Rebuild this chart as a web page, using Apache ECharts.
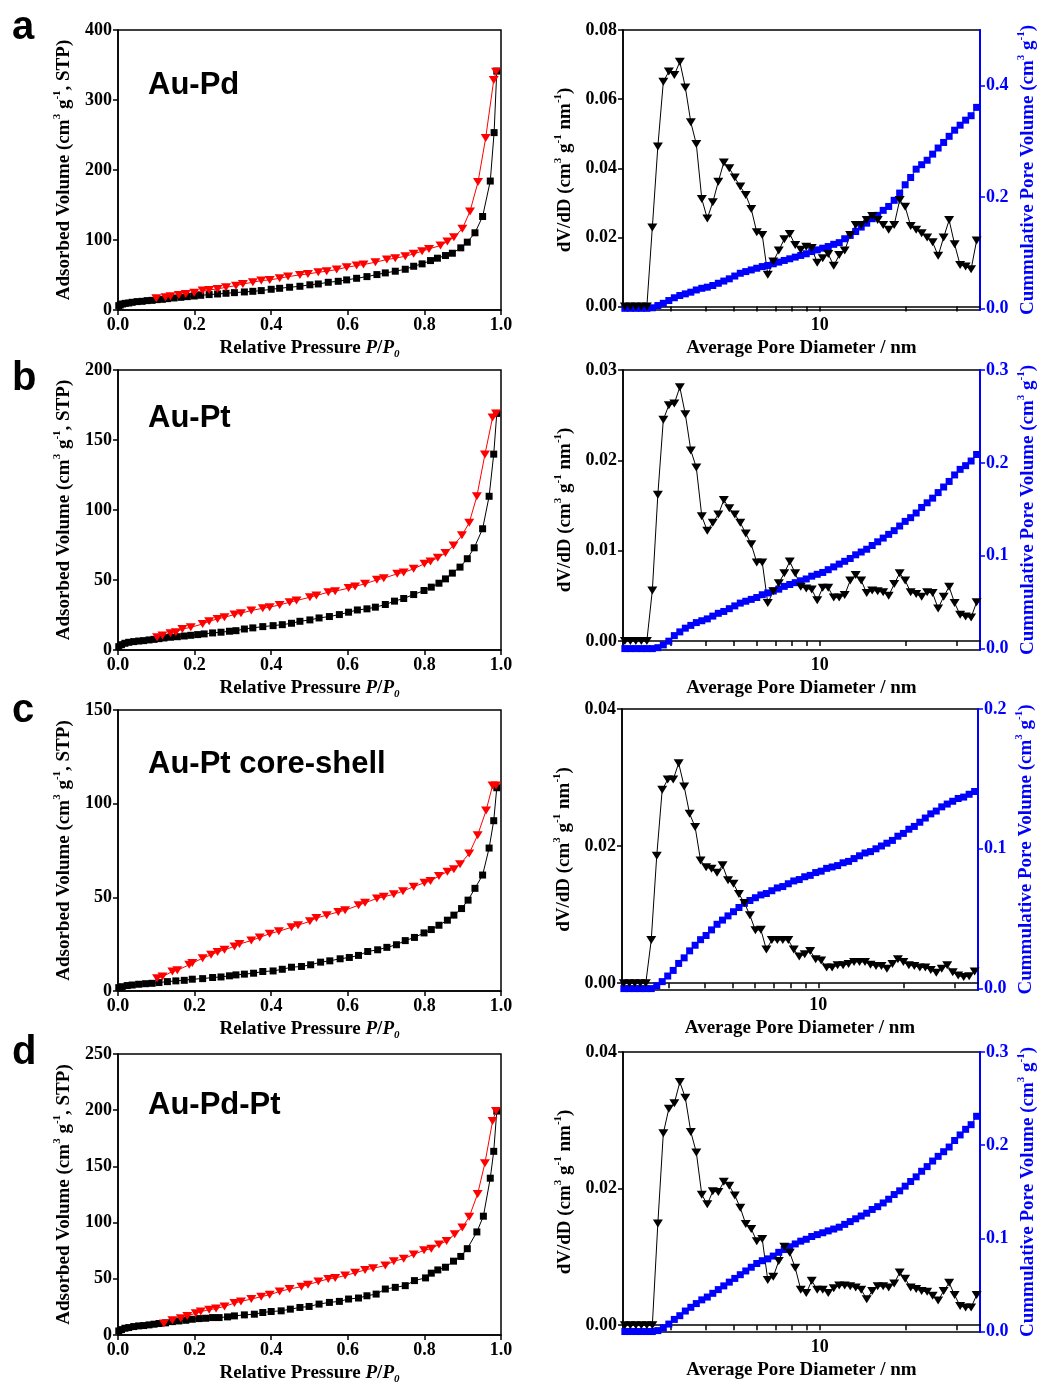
<!DOCTYPE html>
<html><head><meta charset="utf-8">
<script src="https://cdn.jsdelivr.net/npm/echarts@6/dist/echarts.min.js"></script>
<style>html,body{margin:0;padding:0;background:#fff}#c{width:1040px;height:1390px}</style>
</head><body><div id="c"></div><script>
// ---------- DATA ----------
const poreD = [2.081,2.175,2.273,2.376,2.484,2.596,2.714,2.836,2.965,3.099,
 3.239,3.386,3.539,3.699,3.866,4.041,4.224,4.415,4.615,4.824,
 5.042,5.270,5.508,5.757,6.018,6.290,6.575,6.872,7.183,7.508,
 7.848,8.203,8.574,8.962,9.367,9.791,10.234,10.697,11.181,11.687,
 12.215,12.768,13.345,13.949,14.580,15.240,15.929,16.650,17.403,18.190,
 19.013,19.873,20.772,21.712,22.694,23.721,24.794,25.916,27.088,28.313,
 29.594,30.933,32.333,33.795,35.324];

const dvdA = [0,0,0,0,0,0.0229,0.0463,0.065,0.068,0.067,
 0.0708,0.0634,0.0533,0.047,0.0311,0.0255,0.0302,0.0361,0.0417,0.040,
 0.0373,0.0347,0.0323,0.0282,0.0215,0.0207,0.0092,0.013,0.0162,0.0195,
 0.021,0.0178,0.0164,0.0173,0.0169,0.0127,0.014,0.0152,0.0118,0.0149,
 0.0162,0.0207,0.0236,0.0236,0.025,0.0262,0.025,0.0236,0.0222,0.0236,
 0.0308,0.0289,0.0233,0.0222,0.0212,0.020,0.0186,0.0147,0.020,0.025,
 0.018,0.012,0.0116,0.0108,0.0191];
const cumA = [0,0,0,0,0,0.001,0.005,0.009,0.014,0.019,
 0.023,0.026,0.029,0.033,0.036,0.038,0.041,0.045,0.049,0.053,
 0.058,0.063,0.066,0.069,0.072,0.075,0.077,0.080,0.083,0.086,
 0.089,0.092,0.095,0.098,0.102,0.105,0.108,0.111,0.115,0.118,
 0.125,0.131,0.138,0.146,0.153,0.161,0.167,0.176,0.183,0.194,
 0.207,0.222,0.235,0.250,0.258,0.266,0.277,0.288,0.298,0.309,
 0.320,0.329,0.338,0.346,0.361];

const dvdB = [0,0,0,0,0,0.0056,0.0162,0.0245,0.0261,0.0263,
 0.0281,0.0251,0.0211,0.0192,0.0138,0.0122,0.0131,0.0140,0.0156,0.0147,
 0.0140,0.0131,0.0119,0.0107,0.0087,0.0087,0.0042,0.0055,0.0064,0.0075,
 0.0088,0.0075,0.0060,0.0058,0.0057,0.0045,0.0059,0.0059,0.0048,0.0048,
 0.0051,0.0067,0.0073,0.0067,0.0053,0.0056,0.0055,0.0054,0.0050,0.0063,
 0.0075,0.0067,0.0054,0.0052,0.0049,0.0054,0.0053,0.0036,0.0049,0.0060,
 0.0042,0.0029,0.0027,0.0026,0.0043];
const cumB = [0,0,0,0,0,0,0.001,0.004,0.008,0.014,
 0.018,0.022,0.025,0.028,0.030,0.032,0.035,0.038,0.040,0.043,
 0.046,0.049,0.051,0.053,0.055,0.058,0.060,0.062,0.064,0.067,
 0.069,0.071,0.073,0.075,0.078,0.080,0.082,0.085,0.088,0.091,
 0.094,0.097,0.101,0.104,0.107,0.111,0.115,0.119,0.123,0.127,
 0.132,0.137,0.141,0.146,0.152,0.157,0.162,0.168,0.174,0.180,
 0.187,0.193,0.197,0.202,0.209];

const dvdC = [0,0,0,0,0,0.0063,0.0186,0.0282,0.0297,0.0297,
 0.0321,0.0287,0.0247,0.0228,0.0179,0.0169,0.0167,0.0161,0.0172,0.015,
 0.0145,0.013,0.0117,0.0099,0.0077,0.0078,0.0049,0.0063,0.0063,0.0063,
 0.0063,0.0049,0.0039,0.0042,0.0047,0.0035,0.0033,0.0023,0.0023,0.0026,
 0.0026,0.0028,0.0031,0.0031,0.0031,0.0027,0.0025,0.0025,0.0021,0.0028,
 0.0035,0.0031,0.0026,0.0025,0.0023,0.0023,0.0019,0.0015,0.0021,0.0026,
 0.0016,0.0011,0.0009,0.001,0.0017];
const cumC = [0,0,0,0,0,0,0.002,0.005,0.009,0.013,
 0.018,0.022,0.027,0.031,0.035,0.038,0.042,0.046,0.049,0.052,
 0.055,0.058,0.061,0.063,0.065,0.067,0.068,0.070,0.072,0.073,
 0.075,0.077,0.078,0.080,0.081,0.083,0.084,0.086,0.087,0.088,
 0.090,0.091,0.093,0.095,0.097,0.098,0.100,0.102,0.104,0.106,
 0.109,0.111,0.114,0.116,0.119,0.122,0.125,0.127,0.130,0.132,
 0.134,0.136,0.137,0.139,0.141];

const dvdD = [0,0,0,0,0,0,0.0149,0.0281,0.0317,0.0325,
 0.0356,0.0333,0.0283,0.0253,0.0191,0.0177,0.0196,0.0195,0.0210,0.0204,
 0.0190,0.0172,0.0148,0.0141,0.0123,0.0126,0.0066,0.0071,0.0094,0.0115,
 0.0106,0.0084,0.0052,0.0047,0.0065,0.0052,0.0052,0.0047,0.0054,0.0058,
 0.0058,0.0057,0.0055,0.0052,0.0038,0.0050,0.0057,0.0057,0.0055,0.0061,
 0.0077,0.0068,0.0055,0.0053,0.0050,0.0049,0.0043,0.0036,0.0050,0.0062,
 0.0044,0.0028,0.0026,0.0026,0.0044];
const cumD = [0,0,0,0,0,0,0.001,0.004,0.008,0.013,
 0.017,0.022,0.026,0.030,0.034,0.037,0.041,0.045,0.049,0.053,
 0.057,0.061,0.065,0.069,0.073,0.076,0.078,0.081,0.085,0.088,
 0.091,0.094,0.097,0.099,0.102,0.104,0.106,0.108,0.110,0.112,
 0.115,0.118,0.121,0.124,0.127,0.131,0.134,0.138,0.142,0.147,
 0.151,0.156,0.161,0.166,0.172,0.177,0.183,0.188,0.193,0.198,
 0.205,0.211,0.217,0.222,0.231];

const adsA = [[0.002,6.2],[0.006,7.2],[0.012,8.6],[0.019,9.5],[0.028,10.0],[0.037,11.0],[0.05,12.0],[0.063,12.4],[0.076,13.4],[0.089,13.8],[0.102,14.8],[0.116,15.3],[0.129,16.2],[0.146,17.2],[0.164,18.1],[0.181,19.1],[0.199,20.0],[0.216,21.0],[0.238,22.0],[0.26,22.9],[0.282,23.9],[0.304,24.8],[0.33,25.8],[0.352,26.7],[0.374,27.7],[0.40,29.6],[0.422,31.0],[0.448,32.5],[0.475,33.9],[0.501,36.0],[0.523,37.2],[0.549,39.6],[0.575,41.0],[0.597,43.0],[0.623,45.3],[0.65,47.7],[0.676,50.6],[0.698,53.0],[0.724,55.4],[0.75,58.2],[0.772,62.5],[0.794,65.9],[0.816,70.6],[0.834,74.0],[0.855,77.8],[0.873,81.1],[0.895,88.8],[0.912,96.9],[0.932,110.3],[0.952,133.6],[0.972,184.2],[0.982,253.4],[0.989,341.3]];
const desA = [[0.1,16.7],[0.124,18.1],[0.137,19.6],[0.159,21.5],[0.177,22.9],[0.199,24.8],[0.221,27.7],[0.238,28.6],[0.26,30.1],[0.282,32.5],[0.308,34.8],[0.326,37.2],[0.352,39.6],[0.374,42.0],[0.396,43.0],[0.422,45.3],[0.444,47.7],[0.475,50.1],[0.496,51.5],[0.523,53.9],[0.545,55.4],[0.571,57.8],[0.597,61.1],[0.623,63.5],[0.641,64.9],[0.672,68.3],[0.702,72.1],[0.724,74.0],[0.75,76.8],[0.772,80.2],[0.794,84.0],[0.812,87.3],[0.842,92.1],[0.86,97.8],[0.877,104.1],[0.899,116.0],[0.919,140.8],[0.94,182.8],[0.96,245.8],[0.981,328.4],[0.987,340.3]];

const adsB = [[0.002,2.4],[0.009,3.8],[0.018,4.8],[0.028,5.5],[0.041,6.0],[0.054,6.4],[0.067,6.7],[0.081,7.2],[0.094,7.6],[0.107,8.1],[0.12,8.6],[0.137,9.1],[0.155,9.5],[0.173,10.0],[0.19,10.5],[0.208,11.0],[0.225,11.5],[0.247,12.2],[0.269,12.7],[0.291,13.4],[0.308,13.8],[0.33,15.0],[0.352,15.8],[0.378,16.7],[0.405,17.4],[0.429,18.1],[0.453,19.1],[0.475,20.5],[0.501,21.5],[0.525,22.9],[0.552,23.9],[0.578,25.3],[0.602,27.0],[0.625,28.6],[0.65,29.4],[0.672,30.6],[0.698,32.5],[0.722,34.9],[0.746,36.8],[0.772,39.6],[0.799,42.5],[0.818,44.9],[0.838,47.7],[0.855,50.8],[0.873,54.9],[0.893,59.2],[0.912,65.2],[0.93,73.0],[0.952,86.6],[0.969,109.8],[0.981,139.9],[0.989,169.0]];
const desB = [[0.102,9.1],[0.116,10.3],[0.137,11.9],[0.151,12.7],[0.168,15.0],[0.19,16.2],[0.221,18.6],[0.238,20.5],[0.26,22.2],[0.278,23.4],[0.304,25.3],[0.321,26.3],[0.348,28.2],[0.378,29.8],[0.396,30.6],[0.422,32.2],[0.448,34.1],[0.466,35.3],[0.501,37.7],[0.518,38.9],[0.549,41.3],[0.567,42.0],[0.602,44.2],[0.619,45.4],[0.645,47.3],[0.676,50.1],[0.694,51.3],[0.729,54.4],[0.746,55.4],[0.772,58.0],[0.80,61.6],[0.816,63.3],[0.835,65.9],[0.855,69.2],[0.876,74.7],[0.898,81.9],[0.917,90.9],[0.937,109.8],[0.958,139.6],[0.978,166.1],[0.987,169.0]];

const adsC = [[0.002,1.8],[0.011,2.3],[0.024,2.9],[0.037,3.2],[0.054,3.6],[0.072,3.9],[0.089,4.1],[0.107,4.5],[0.129,5.0],[0.151,5.4],[0.173,5.7],[0.194,6.3],[0.221,6.6],[0.247,7.2],[0.269,7.5],[0.291,8.1],[0.308,8.6],[0.33,9.0],[0.354,9.5],[0.378,10.4],[0.405,10.7],[0.429,11.6],[0.453,12.7],[0.479,13.1],[0.503,14.0],[0.529,15.4],[0.553,16.1],[0.58,17.2],[0.604,17.9],[0.628,19.0],[0.652,21.1],[0.678,22.0],[0.702,23.3],[0.727,24.7],[0.75,26.9],[0.774,28.6],[0.799,31.0],[0.818,32.8],[0.838,35.1],[0.86,37.8],[0.877,40.5],[0.897,44.0],[0.914,48.5],[0.932,54.8],[0.952,61.9],[0.969,76.3],[0.981,90.9],[0.989,108.5]];
const desC = [[0.102,6.8],[0.116,7.7],[0.142,10.4],[0.155,11.1],[0.186,14.0],[0.194,14.9],[0.221,17.5],[0.243,19.3],[0.26,20.8],[0.278,22.0],[0.304,23.8],[0.317,25.1],[0.348,26.9],[0.37,28.6],[0.396,30.6],[0.42,31.9],[0.453,34.0],[0.47,35.1],[0.501,37.2],[0.518,39.0],[0.545,40.5],[0.575,42.2],[0.593,43.1],[0.628,45.8],[0.645,47.1],[0.676,49.4],[0.694,50.3],[0.72,51.6],[0.744,53.3],[0.772,55.7],[0.80,57.8],[0.816,58.7],[0.838,61.4],[0.86,63.7],[0.877,65.0],[0.893,67.7],[0.917,73.4],[0.939,83.2],[0.961,96.3],[0.978,109.7],[0.987,109.7]];

const adsD = [[0.002,3.6],[0.009,4.8],[0.018,6.0],[0.028,6.6],[0.041,7.5],[0.054,8.1],[0.067,8.4],[0.081,9.0],[0.094,9.6],[0.107,10.2],[0.124,10.8],[0.142,11.9],[0.159,12.5],[0.177,13.1],[0.194,14.0],[0.212,14.6],[0.229,14.9],[0.247,15.5],[0.264,15.5],[0.286,16.1],[0.304,17.0],[0.33,17.9],[0.356,18.5],[0.378,20.0],[0.40,20.9],[0.426,21.5],[0.45,23.0],[0.475,24.5],[0.499,25.4],[0.525,27.5],[0.552,29.0],[0.578,29.9],[0.602,32.0],[0.628,32.9],[0.65,34.9],[0.674,36.4],[0.698,40.9],[0.724,42.4],[0.75,43.9],[0.774,48.4],[0.803,50.8],[0.818,55.0],[0.835,57.9],[0.855,60.3],[0.876,65.7],[0.895,69.9],[0.912,76.8],[0.937,91.7],[0.954,105.7],[0.972,139.5],[0.981,163.4],[0.989,199.2]];
const desD = [[0.12,10.2],[0.142,13.1],[0.164,14.9],[0.181,17.0],[0.203,19.4],[0.216,20.9],[0.238,22.4],[0.256,23.6],[0.278,25.4],[0.304,28.4],[0.321,29.9],[0.348,32.0],[0.374,34.1],[0.396,35.8],[0.422,38.8],[0.448,40.9],[0.479,43.0],[0.496,44.8],[0.523,47.5],[0.549,49.9],[0.567,50.8],[0.593,52.9],[0.619,55.3],[0.645,57.9],[0.666,59.4],[0.698,61.8],[0.72,65.7],[0.746,67.8],[0.772,71.7],[0.799,75.3],[0.818,76.8],[0.838,80.6],[0.858,83.6],[0.879,89.6],[0.899,95.6],[0.917,105.1],[0.939,125.5],[0.958,152.9],[0.978,190.3],[0.987,199.2]];

const sampleNames = ['Au-Pd','Au-Pt','Au-Pt core-shell','Au-Pd-Pt'];
const panelLetters = ['a','b','c','d'];
const isoYMax = [400,200,150,250];
const isoYStep = [100,50,50,50];
const psdLeftMin = [-0.001,-0.001,-0.001,-0.001];
const psdLeftMax = [0.08,0.03,0.04,0.04];
const psdLeftTicks = [[0,0.02,0.04,0.06,0.08],[0,0.01,0.02,0.03],[0,0.02,0.04],[0,0.02,0.04]];
const psdRightMin = [-0.003,-0.0015,-0.001,-0.0005];
const psdRightMax = [0.5,0.3,0.2,0.3];
const psdRightTicks = [[0,0.2,0.4],[0,0.1,0.2,0.3],[0,0.1,0.2],[0,0.1,0.2,0.3]];
const psdDMin = 2.05, psdDMax = 36.3;
const psdTickD = [3,4,5,6,7,8,9,10,20,30];
const psdLabelD = [10];

// ---------- LAYOUT ----------
const isoGrids = [[118,30,383,280],[118,370,383,280],[118,710,383,281],[118,1054,383,281]];
const psdGrids = [[623,30,357,280],[623,370,357,280],[622,709,356,281],[623,1052,357,280]];
const letterY = [30,381,713,1055];
const nameY = [86,419,765,1106];

const SERIF = "'Liberation Serif','Times New Roman',serif";
const SANS = "'Liberation Sans',Arial,sans-serif";
const BLUE = '#0000ff';
const NAME_FS = 19, LABEL_FS = 18;

function rich(color){
  return {
    b:{fontFamily:SERIF,fontWeight:'bold',fontSize:NAME_FS,color,lineHeight:24,verticalAlign:'middle'},
    i:{fontFamily:SERIF,fontWeight:'bold',fontStyle:'italic',fontSize:NAME_FS,color,lineHeight:24,verticalAlign:'middle'},
    s:{fontFamily:SERIF,fontWeight:'bold',fontSize:11,color,lineHeight:13,verticalAlign:'top'},
    si:{fontFamily:SERIF,fontWeight:'bold',fontStyle:'italic',fontSize:11,color,lineHeight:13,verticalAlign:'bottom'}
  };
}
const lbl = (color) => ({fontFamily:SERIF,fontWeight:'bold',fontSize:LABEL_FS,color,margin:6});

const grids=[], xAxes=[], yAxes=[], series=[], graphics=[];
const dvd=[dvdA,dvdB,dvdC,dvdD], cum=[cumA,cumB,cumC,cumD];
const ads=[adsA,adsB,adsC,adsD], des=[desA,desB,desC,desD];

for(let p=0;p<4;p++){
  // isotherm
  const gi = grids.length;
  const g = isoGrids[p];
  grids.push({left:g[0],top:g[1],width:g[2],height:g[3],show:true,borderColor:'#000',borderWidth:1.5,backgroundColor:'transparent'});
  xAxes.push({gridIndex:gi,type:'value',min:0,max:1,interval:0.2,
    axisLine:{lineStyle:{color:'#000',width:1.5}},axisTick:{length:5,lineStyle:{color:'#000',width:1.5}},
    axisLabel:Object.assign(lbl('#000'),{formatter:v=>v.toFixed(1)}),splitLine:{show:false},
    name:'{b|Relative Pressure }{i|P}{b|/}{i|P}{si|0}',nameLocation:'middle',nameGap:26,nameTextStyle:{rich:rich('#000')}});
  const yi0 = yAxes.length;
  yAxes.push({gridIndex:gi,type:'value',min:0,max:isoYMax[p],interval:isoYStep[p],
    axisLine:{lineStyle:{color:'#000',width:1.5}},axisTick:{length:5,lineStyle:{color:'#000',width:1.5}},
    axisLabel:lbl('#000'),splitLine:{show:false},
    name:'{b|Adsorbed Volume (cm}{s|3}{b| g}{s|-1}{b|, STP)}',nameLocation:'middle',nameRotate:90,nameGap:42,nameTextStyle:{rich:rich('#000')}});
  series.push({type:'line',xAxisIndex:gi,yAxisIndex:yi0,data:ads[p],symbol:'rect',symbolSize:7,showAllSymbol:true,clip:false,
    lineStyle:{color:'#000',width:1},itemStyle:{color:'#000'}});
  series.push({type:'line',xAxisIndex:gi,yAxisIndex:yi0,data:des[p],symbol:'triangle',symbolRotate:180,symbolSize:[10,8],showAllSymbol:true,clip:false,
    lineStyle:{color:'#ff0000',width:1},itemStyle:{color:'#ff0000'}});

  // pore size distribution
  const gj = grids.length;
  const h = psdGrids[p];
  grids.push({left:h[0],top:h[1],width:h[2],height:h[3],show:true,borderColor:'#000',borderWidth:1.5,backgroundColor:'transparent'});
  xAxes.push({gridIndex:gj,type:'value',min:Math.log10(psdDMin),max:Math.log10(psdDMax),
    axisLine:{lineStyle:{color:'#000',width:1.5}},
    axisTick:{length:5,lineStyle:{color:'#000',width:1.5},customValues:psdTickD.map(Math.log10)},
    axisLabel:Object.assign(lbl('#000'),{customValues:psdLabelD.map(Math.log10),formatter:v=>String(Math.round(Math.pow(10,v)))}),
    splitLine:{show:false},
    name:'{b|Average Pore Diameter / nm}',nameLocation:'middle',nameGap:26,nameTextStyle:{rich:rich('#000')}});
  const yl = yAxes.length;
  yAxes.push({gridIndex:gj,type:'value',position:'left',min:psdLeftMin[p],max:psdLeftMax[p],
    axisLine:{lineStyle:{color:'#000',width:1.5}},
    axisTick:{length:5,lineStyle:{color:'#000',width:1.5},customValues:psdLeftTicks[p]},
    axisLabel:Object.assign(lbl('#000'),{customValues:psdLeftTicks[p],formatter:v=>v.toFixed(2)}),
    splitLine:{show:false},
    name:'{b|dV/dD (cm}{s|3}{b| g}{s|-1}{b| nm}{s|-1}{b|)}',nameLocation:'middle',nameRotate:90,nameGap:46,nameTextStyle:{rich:rich('#000')}});
  const yr = yAxes.length;
  yAxes.push({gridIndex:gj,type:'value',position:'right',min:psdRightMin[p],max:psdRightMax[p],
    axisLine:{lineStyle:{color:BLUE,width:2}},
    axisTick:{length:5,lineStyle:{color:BLUE,width:1.5},customValues:psdRightTicks[p]},
    axisLabel:Object.assign(lbl(BLUE),{customValues:psdRightTicks[p],formatter:v=>v.toFixed(1)}),
    splitLine:{show:false},
    name:'{b|Cummulative Pore Volume (cm}{s|3}{b| g}{s|-1}{b|)}',nameLocation:'middle',nameRotate:90,nameGap:36,nameTextStyle:{rich:rich(BLUE)}});
  series.push({type:'line',xAxisIndex:gj,yAxisIndex:yr,data:poreD.map((d,i)=>[Math.log10(d),cum[p][i]]),
    symbol:'rect',symbolSize:7,showAllSymbol:true,clip:false,lineStyle:{color:BLUE,width:1},itemStyle:{color:BLUE}});
  series.push({type:'line',xAxisIndex:gj,yAxisIndex:yl,data:poreD.map((d,i)=>[Math.log10(d),dvd[p][i]]),
    symbol:'triangle',symbolRotate:180,symbolSize:[10,8],showAllSymbol:true,clip:false,lineStyle:{color:'#000',width:1},itemStyle:{color:'#000'}});

  graphics.push({type:'text',left:12,top:letterY[p]-22,style:{text:panelLetters[p],font:'bold 40px '+SANS,fill:'#000'}});
  graphics.push({type:'text',left:148,top:nameY[p]-16,style:{text:sampleNames[p],font:'bold 31px '+SANS,fill:'#000'}});
}

const chart = echarts.init(document.getElementById('c'),null,{renderer:'canvas'});
chart.setOption({animation:false,backgroundColor:'#fff',grid:grids,xAxis:xAxes,yAxis:yAxes,series,graphic:graphics});
</script></body></html>
